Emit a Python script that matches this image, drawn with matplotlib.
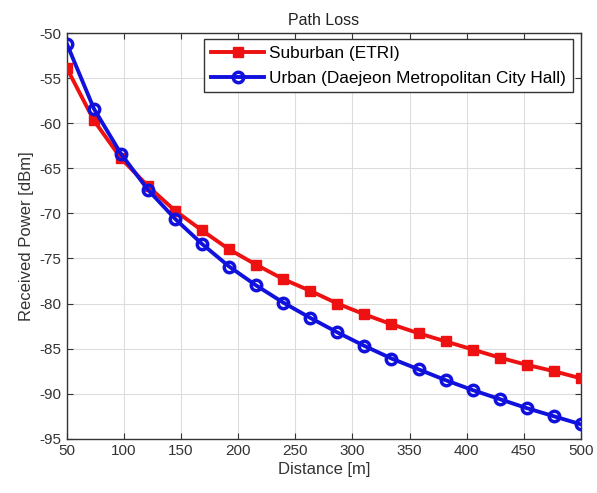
import matplotlib
matplotlib.use("Agg")
import matplotlib.pyplot as plt

plt.rcParams["font.family"] = ["Liberation Sans", "DejaVu Sans"]
plt.rcParams["axes.unicode_minus"] = False

# distance samples [m]
distance = [50.0, 73.7, 97.4, 121.1, 144.7, 168.4, 192.1, 215.8, 239.5, 263.2,
            286.8, 310.5, 334.2, 357.9, 381.6, 405.3, 428.9, 452.6, 476.3, 500.0]

# received power [dBm]
suburban = [-53.9, -59.7, -63.9, -67.0, -69.7, -71.9, -74.0, -75.7, -77.3, -78.6,
            -80.0, -81.2, -82.3, -83.3, -84.2, -85.1, -86.0, -86.8, -87.5, -88.3]
urban = [-51.2, -58.4, -63.4, -67.4, -70.6, -73.4, -75.9, -78.0, -79.9, -81.6,
         -83.2, -84.7, -86.1, -87.3, -88.5, -89.6, -90.6, -91.6, -92.5, -93.4]

xticks = [50, 100, 150, 200, 250, 300, 350, 400, 450, 500]
yticks = [-95, -90, -85, -80, -75, -70, -65, -60, -55, -50]

fig = plt.figure(figsize=(5.97, 4.93), dpi=100)
ax = fig.add_axes([0.112, 0.110, 0.861, 0.823])

ax.plot(distance, suburban, color="#ee1111", lw=2.8, marker="s", ms=7,
        mfc="#ee1111", mec="#ee1111", label="Suburban (ETRI)", zorder=3)
ax.plot(distance, urban, color="#1111dd", lw=2.8, marker="o", ms=7.5,
        mfc="none", mec="#1111dd", mew=2.5, label="Urban (Daejeon Metropolitan City Hall)", zorder=4)

ax.set_xlim(50, 500)
ax.set_ylim(-95, -50)
ax.set_xticks(xticks)
ax.set_yticks(yticks)
ax.tick_params(direction="in", length=4, labelsize=11, colors="#333333",
               top=True, right=True, pad=4)
ax.grid(True, color="#dddddd", lw=0.8)
ax.set_axisbelow(True)
for s in ax.spines.values():
    s.set_color("#333333")
    s.set_linewidth(1.0)

ax.set_title("Path Loss", fontsize=11.5, color="#222222", pad=6)
ax.set_xlabel("Distance [m]", fontsize=12, color="#333333", labelpad=3)
ax.set_ylabel("Received Power [dBm]", fontsize=12, color="#333333", labelpad=4)

leg = ax.legend(loc="upper right", bbox_to_anchor=(0.985, 0.985), fontsize=12.4,
                fancybox=False, edgecolor="#333333", framealpha=1,
                handlelength=3.1, borderpad=0.4, labelspacing=0.55, handletextpad=0.3,
                borderaxespad=0)
leg.get_frame().set_linewidth(1.0)

fig.savefig("out.png", dpi=100)
